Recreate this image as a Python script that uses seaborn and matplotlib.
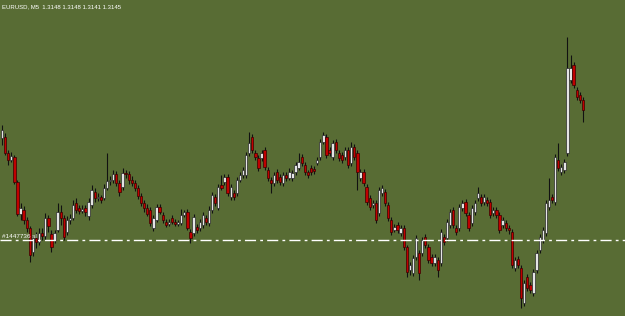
import matplotlib
matplotlib.use("Agg")
import matplotlib.pyplot as plt
import seaborn as sns
import numpy as np
import pandas as pd

# EURUSD M5 candles, prices in points above 1.31000 (approx.)
opens = [
    262, 263, 247, 240, 243, 218, 186, 190, 180, 172,   # 0
    148, 162, 158, 167, 164, 182, 166, 160, 170, 188,   # 10
    182, 168, 180, 182, 197, 192, 189, 192, 184, 195,   # 20
    208, 202, 203, 202, 212, 219, 220, 226, 217, 213,   # 30
    227, 226, 220, 217, 212, 204, 197, 192, 190, 172,   # 40
    180, 193, 185, 178, 176, 182, 178, 176, 177, 185,   # 50
    188, 168, 167, 173, 172, 175, 182, 177, 190, 203,   # 60
    192, 215, 218, 223, 203, 207, 207, 220, 225, 225,   # 70
    247, 263, 247, 242, 242, 250, 230, 220, 217, 228,   # 80
    223, 217, 225, 222, 222, 228, 232, 243, 235, 228,   # 90
    232, 231, 237, 243, 258, 263, 250, 243, 258, 247,   # 100
    245, 243, 250, 237, 253, 247, 222, 228, 213, 202,   # 110
    195, 197, 187, 207, 208, 195, 180, 170, 175, 167,   # 120
    172, 153, 130, 127, 143, 147, 147, 163, 153, 143,   # 130
    137, 140, 137, 163, 162, 175, 190, 172, 172, 192,   # 140
    198, 185, 177, 188, 202, 203, 198, 200, 198, 187,   # 150
    190, 185, 175, 177, 172, 168, 132, 141, 132, 97,    # 160
    123, 115, 107, 130, 150, 160, 167, 193, 203, 198,   # 170
    240, 228, 230, 247, 320, 335, 310, 305, 300,        # 180
]
highs = [
    275, 267, 250, 248, 245, 220, 197, 194, 183, 174,
    165, 168, 172, 172, 187, 185, 170, 170, 197, 195,
    185, 184, 186, 200, 202, 195, 195, 195, 202, 215,
    212, 207, 205, 216, 247, 224, 230, 229, 220, 232,
    230, 229, 224, 220, 215, 207, 200, 196, 193, 185,
    196, 196, 188, 181, 181, 185, 181, 180, 191, 190,
    191, 171, 186, 176, 181, 188, 185, 194, 208, 206,
    216, 225, 226, 226, 216, 210, 223, 228, 233, 248,
    268, 266, 250, 245, 250, 253, 233, 223, 228, 231,
    226, 228, 228, 232, 230, 238, 247, 246, 238, 230,
    235, 234, 243, 261, 268, 266, 253, 260, 261, 250,
    248, 253, 253, 258, 256, 250, 231, 231, 216, 205,
    200, 200, 213, 215, 211, 198, 183, 176, 178, 175,
    175, 155, 138, 145, 165, 150, 163, 166, 156, 146,
    146, 143, 171, 166, 181, 191, 193, 175, 196, 200,
    201, 188, 195, 200, 213, 206, 206, 203, 201, 193,
    193, 188, 183, 180, 175, 171, 143, 144, 135, 120,
    126, 118, 131, 150, 166, 173, 200, 222, 206, 246,
    257, 236, 241, 363, 345, 338, 313, 308, 303,
]
lows = [
    255, 245, 235, 238, 216, 184, 180, 176, 168, 138,
    144, 152, 155, 160, 160, 168, 148, 157, 168, 175,
    160, 165, 176, 180, 187, 186, 187, 184, 180, 192,
    198, 199, 197, 200, 210, 215, 217, 214, 204, 210,
    222, 216, 214, 209, 201, 194, 188, 184, 174, 169,
    178, 186, 177, 173, 174, 176, 174, 174, 175, 183,
    170, 157, 164, 167, 169, 172, 175, 174, 187, 194,
    190, 210, 215, 204, 200, 200, 204, 218, 222, 222,
    244, 247, 240, 229, 239, 230, 219, 207, 214, 217,
    215, 214, 219, 220, 219, 225, 230, 234, 225, 222,
    225, 226, 235, 240, 256, 242, 244, 240, 247, 239,
    237, 240, 232, 234, 240, 210, 219, 214, 195, 190,
    192, 177, 184, 204, 194, 179, 165, 168, 167, 164,
    150, 123, 125, 124, 140, 120, 144, 152, 137, 134,
    134, 123, 134, 155, 159, 172, 172, 165, 169, 189,
    184, 169, 174, 185, 199, 194, 195, 194, 182, 184,
    182, 167, 172, 169, 166, 132, 129, 132, 92, 94,
    109, 107, 104, 127, 147, 157, 164, 190, 197, 195,
    229, 225, 227, 244, 317, 312, 300, 297, 278,
]
closes = [
    270, 247, 240, 244, 218, 186, 192, 180, 172, 145,
    162, 158, 167, 164, 182, 174, 153, 167, 188, 182,
    163, 180, 182, 195, 190, 189, 191, 188, 198, 210,
    202, 203, 200, 212, 219, 220, 226, 217, 208, 227,
    226, 220, 217, 212, 204, 197, 192, 186, 177, 182,
    193, 188, 180, 175, 178, 178, 176, 178, 185, 188,
    172, 162, 183, 170, 178, 185, 178, 190, 205, 197,
    213, 212, 223, 207, 213, 203, 220, 225, 230, 245,
    257, 250, 243, 232, 247, 233, 222, 217, 225, 220,
    218, 225, 222, 228, 227, 235, 238, 237, 228, 225,
    228, 229, 240, 258, 265, 245, 247, 257, 250, 242,
    240, 250, 235, 253, 243, 228, 228, 217, 198, 193,
    197, 180, 210, 212, 197, 182, 168, 173, 170, 172,
    153, 128, 135, 142, 162, 127, 160, 155, 140, 137,
    143, 130, 168, 158, 178, 188, 175, 168, 193, 197,
    187, 172, 192, 197, 207, 197, 203, 197, 185, 190,
    185, 170, 180, 172, 170, 135, 140, 135, 102, 117,
    112, 110, 128, 147, 163, 170, 197, 200, 200, 243,
    232, 233, 238, 332, 332, 315, 303, 300, 290,
]
order_level = 160
title_text = "EURUSD, M5  1.3148 1.3148 1.3141 1.3145"
order_label = "#1447736 sl"

df = pd.DataFrame({"o": opens, "h": highs, "l": lows, "c": closes})
df["i"] = np.arange(len(df))
df["bull"] = df["c"] >= df["o"]

sns.set_theme(style="white")
plt.rcParams["font.family"] = ["DejaVu Sans"]
narrow = ["Liberation Sans Narrow", "Liberation Sans", "DejaVu Sans"]

bg = "#586c34"
fig = plt.figure(figsize=(6.25, 3.16), dpi=100, facecolor=bg)
ax = fig.add_axes([0, 0, 1, 1])
ax.set_facecolor(bg)

# wicks
ax.vlines(df["i"], df["l"], df["h"], color="#111111", linewidth=0.8, zorder=2)
# bodies
body_lo = np.minimum(df["o"], df["c"])
body_h = np.maximum(np.abs(df["c"] - df["o"]), 1.5)
colors = np.where(df["bull"], "#e4e4e4", "#c00000")
edges = np.where(df["bull"], "#2a2a2a", "#3a0000")
ax.bar(df["i"], body_h, bottom=body_lo, width=0.75, color=colors,
       edgecolor=edges, linewidth=0.5, zorder=3)

ax.axhline(order_level, color="white", linewidth=1.0,
           dashes=(8, 3, 2, 3), zorder=4)
ax.text(2 / 625, order_level + 0.5, order_label, transform=ax.get_yaxis_transform(),
        color="white", fontsize=4.6, ha="left", va="bottom", zorder=5,
        family=narrow)
ax.text(2, 309.5, title_text, transform=None, color="white", fontsize=4.3,
        ha="left", va="center", family=narrow)

step = 3.09
xmin = -2 / step
ax.set_xlim(xmin, xmin + 625 / step)
ax.set_ylim(84, 400)
ax.axis("off")

fig.savefig("out.png", dpi=100, facecolor=bg)
